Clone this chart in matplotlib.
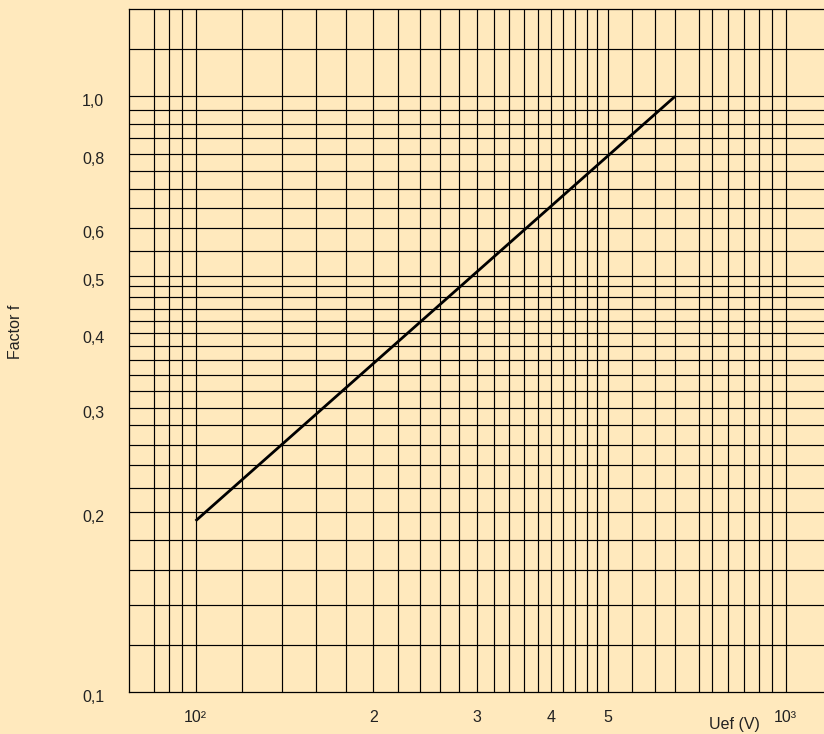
import matplotlib
matplotlib.use('Agg')
import matplotlib.pyplot as plt
import matplotlib.transforms as mtransforms
from matplotlib.ticker import NullLocator

plt.rcParams['font.family'] = ['Liberation Sans', 'DejaVu Sans']

# curve: factor f against Uef, straight line on log-log paper
uef = [100, 650]
factor = [0.1936, 1.0]

# grid of the nomogram paper
x_grid = [85, 90, 95, 100, 120, 140, 160, 180, 200, 220, 240, 260, 280,
          300, 320, 340, 360, 380, 400, 420, 440, 460, 480, 500, 550, 600,
          650, 714, 750, 800, 850, 900, 950, 1000]
y_grid = [0.12, 0.14, 0.16, 0.18, 0.2, 0.22, 0.24, 0.26, 0.28, 0.3, 0.32,
          0.34, 0.36, 0.38, 0.4, 0.42, 0.44, 0.46, 0.48, 0.5, 0.55, 0.6,
          0.65, 0.7, 0.75, 0.8, 0.85, 0.9, 0.95, 1.0, 1.2]

x_ticks = [100, 200, 300, 400, 500, 1000]
x_labels = ['10²', '2', '3', '4', '5', '10³']
y_ticks = [0.1, 0.2, 0.3, 0.4, 0.5, 0.6, 0.8, 1.0]
y_labels = ['0,1', '0,2', '0,3', '0,4', '0,5', '0,6', '0,8', '1,0']

bg = '#ffe9bd'
txt = '#222222'

fig = plt.figure(figsize=(8.24, 7.34), dpi=100, facecolor=bg)
ax = fig.add_axes([129.3/824, 42.3/734, 1 - 129.3/824, (691.7-9.3)/734])
ax.set_facecolor(bg)
ax.set_xscale('log')
ax.set_yscale('log')
ax.set_xlim(77.2, 1162)
ax.set_ylim(0.1, 1.4)

for v in x_grid:
    ax.axvline(v, color='black', lw=0.85, zorder=1)
for v in y_grid:
    ax.axhline(v, color='black', lw=0.85, zorder=1)

ax.plot(uef, factor, color='black', lw=2.0, solid_capstyle='butt', zorder=3)

ax.xaxis.set_minor_locator(NullLocator())
ax.yaxis.set_minor_locator(NullLocator())
ax.set_xticks(x_ticks, x_labels, fontsize=11.5, color=txt)
ax.set_yticks(y_ticks, y_labels, fontsize=11.5, color=txt)
ax.tick_params(axis='both', length=0)
ax.tick_params(axis='x', pad=13.5)
ax.tick_params(axis='y', pad=18)

# labels in the original sit a little below their lines
off = mtransforms.ScaledTranslation(0, -4/100, fig.dpi_scale_trans)
for lab in ax.get_yticklabels():
    lab.set_transform(lab.get_transform() + off)

for s in ['left', 'bottom', 'top']:
    ax.spines[s].set_linewidth(0.9)
ax.spines['right'].set_visible(False)

fig.text(16/824, 1 - 332/734, 'Factor f', rotation=90, ha='center', va='center',
         fontsize=11.5, color=txt)
fig.text(734/824, 1 - 725/734, 'Uef (V)', ha='center', va='center',
         fontsize=11.5, color=txt)

fig.savefig('out.png', dpi=100, facecolor=bg)
